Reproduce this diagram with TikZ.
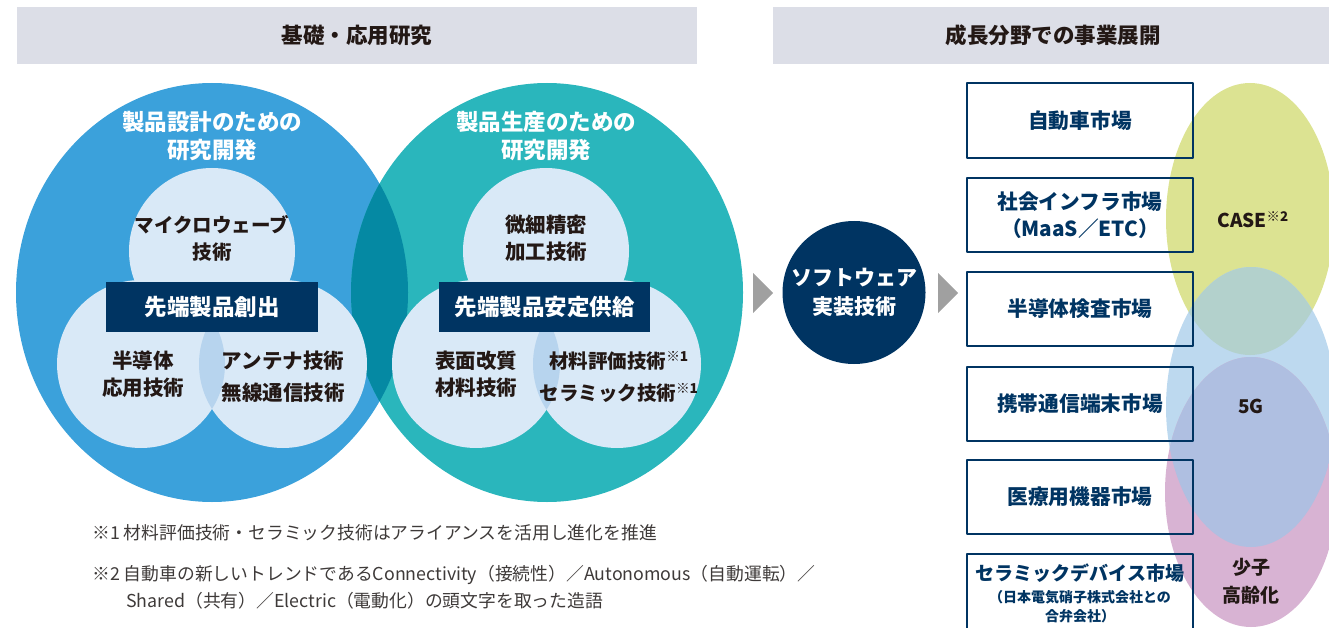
\documentclass[tikz,border=0pt]{standalone}
\usepackage{fontspec}
\setmainfont{Noto Sans CJK JP}
\usetikzlibrary{positioning}

\definecolor{hdrgray}{HTML}{DCDEE7}
\definecolor{designblue}{HTML}{3BA1DB}
\definecolor{prodteal}{HTML}{2AB6BC}
\definecolor{lensteal}{HTML}{0589A3}
\definecolor{innerblue}{HTML}{D9E9F7}
\definecolor{innerlens}{HTML}{B7D4EE}
\definecolor{navy}{HTML}{003462}
\definecolor{darktxt}{HTML}{231815}
\definecolor{notegray}{HTML}{3E3A39}
\definecolor{arrowgray}{HTML}{A0A0A0}
\definecolor{casegreen}{HTML}{DCE392}
\definecolor{fivegblue}{HTML}{BDD9EF}
\definecolor{agingpink}{HTML}{D8B3D3}
\definecolor{greenblue}{HTML}{B3D1CC}
\definecolor{bluepink}{HTML}{AFBFE1}

\tikzset{
  hdrband/.style={fill=hdrgray, minimum height=57pt, inner sep=0pt,
    text=darktxt, font=\fontsize{21.5}{24}\selectfont\bfseries},
  circtxt/.style={inner sep=0pt, align=center, text=white,
    font=\fontsize{22.5}{28}\selectfont\bfseries},
  innertxt/.style={inner sep=0pt, align=center, text=darktxt,
    font=\fontsize{20.5}{27}\selectfont\bfseries},
  leadbox/.style={fill=navy, text=white, minimum height=50pt, inner sep=0pt,
    font=\fontsize{22.5}{24}\selectfont\bfseries},
  softcirc/.style={circle, fill=navy, text=white, minimum size=143pt,
    inner sep=0pt, align=center, font=\fontsize{21}{29}\selectfont\bfseries},
  mktbox/.style={draw=navy, line width=1.8pt, minimum width=226pt,
    minimum height=74pt, inner sep=0pt, align=center, text=navy,
    font=\fontsize{20.7}{27}\selectfont\bfseries},
  mkttxt/.style={inner sep=0pt, align=center, text=navy,
    font=\fontsize{19}{24}\selectfont\bfseries},
  ovaltxt/.style={inner sep=0pt, align=center, text=darktxt,
    font=\fontsize{19}{28}\selectfont\bfseries},
  notetxt/.style={inner sep=0pt, anchor=west, text=notegray,
    font=\fontsize{17.8}{20}\selectfont},
}

\begin{document}
\begin{tikzpicture}[x=1pt,y=-1pt,line join=round]
\useasboundingbox (0,0) rectangle (1329,628);

% header bands
\node[hdrband, minimum width=680pt] (hdrL) at (357,35.5) {基礎・応用研究};
\node[hdrband, minimum width=560pt] (hdrR) at (1053,35.5) {成長分野での事業展開};

% two research circles
\fill[designblue] (212,292.5) ellipse [x radius=196pt, y radius=209.5pt];
\fill[prodteal] (547,292.5) ellipse [x radius=196pt, y radius=209.5pt];
\begin{scope}
  \clip (212,292.5) ellipse [x radius=196pt, y radius=209.5pt];
  \fill[lensteal] (547,292.5) ellipse [x radius=196pt, y radius=209.5pt];
\end{scope}

% inner circles, design side
\fill[innerblue] (212,251) circle [radius=83pt];
\fill[innerblue] (141,364) circle [radius=84pt];
\fill[innerblue] (283,364) circle [radius=84pt];
\begin{scope}
  \clip (141,364) circle [radius=84pt];
  \fill[innerlens] (283,364) circle [radius=84pt];
\end{scope}

% inner circles, production side
\fill[innerblue] (546,251) circle [radius=83pt];
\fill[innerblue] (476,364) circle [radius=84pt];
\fill[innerblue] (617,364) circle [radius=84pt];
\begin{scope}
  \clip (476,364) circle [radius=84pt];
  \fill[innerlens] (617,364) circle [radius=84pt];
\end{scope}

\node[circtxt] (designlbl) at (212,136) {製品設計のための\\研究開発};
\node[circtxt] (prodlbl) at (546,136) {製品生産のための\\研究開発};
\node[innertxt, font=\fontsize{19.5}{27}\selectfont\bfseries] (microwave) at (212,238.5) {マイクロウェーブ\\技術};
\node[innertxt] (finework) at (546,238.5) {微細精密\\加工技術};
\node[leadbox, minimum width=212pt] (create) at (212,307) {先端製品創出};
\node[leadbox, minimum width=211pt] (supply) at (544.5,307) {先端製品安定供給};
\node[innertxt] (semi) at (143,374.5) {半導体\\応用技術};
\node[innertxt, font=\fontsize{20.5}{32}\selectfont\bfseries] (antenna) at (283,377) {アンテナ技術\\無線通信技術};
\node[innertxt] (surface) at (476,374.5) {表面改質\\材料技術};
\node[innertxt, font=\fontsize{19.5}{32}\selectfont\bfseries] (material) at (619,377) {材料評価技術\textsuperscript{※1}\\セラミック技術\textsuperscript{※1}};

% notes
\node[notetxt] (note1) at (92,533) {※1 材料評価技術・セラミック技術はアライアンスを活用し進化を推進};
\node[notetxt] (note2) at (92,575) {※2 自動車の新しいトレンドであるConnectivity（接続性）／Autonomous（自動運転）／};
\node[notetxt] (note2b) at (126,601) {Shared（共有）／Electric（電動化）の頭文字を取った造語};

% software circle and arrows
\node[softcirc] (soft) at (854,292.5) {ソフトウェア\\実装技術};
\fill[arrowgray] (753,273) -- (773,293) -- (753,313) -- cycle;
\fill[arrowgray] (938,273) -- (958,293) -- (938,313) -- cycle;

% market ovals
\fill[casegreen] (1250,219) ellipse [x radius=84pt, y radius=136pt];
\fill[fivegblue] (1251,407) ellipse [x radius=85pt, y radius=140pt];
\fill[agingpink] (1251,492) ellipse [x radius=86pt, y radius=135pt];
\begin{scope}
  \clip (1250,219) ellipse [x radius=84pt, y radius=136pt];
  \fill[greenblue] (1251,407) ellipse [x radius=85pt, y radius=140pt];
\end{scope}
\begin{scope}
  \clip (1251,407) ellipse [x radius=85pt, y radius=140pt];
  \fill[bluepink] (1251,492) ellipse [x radius=86pt, y radius=135pt];
\end{scope}

% market boxes
\node[mktbox, minimum height=75pt] (auto) at (1080,120.5) {自動車市場};
\node[mktbox] (infra) at (1080,215) {社会インフラ市場\\（MaaS／ETC）};
\node[mktbox] (inspect) at (1080,309) {半導体検査市場};
\node[mktbox] (mobile) at (1080,404) {携帯通信端末市場};
\node[mktbox] (medical) at (1080,497) {医療用機器市場};
\node[mktbox, minimum height=78pt] (ceramicbox) at (1080,593) {};
\node[mkttxt] (ceramic) at (1080,573) {セラミックデバイス市場};
\node[mkttxt, font=\fontsize{14}{19}\selectfont\bfseries] (ceramicsub) at (1080,606.5) {（日本電気硝子株式会社との\\合弁会社）};

\node[ovaltxt] (case) at (1253,220) {CASE\textsuperscript{※2}};
\node[ovaltxt] (fiveg) at (1251,406) {5G};
\node[ovaltxt] (aging) at (1251,581) {少子\\高齢化};
\end{tikzpicture}
\end{document}
